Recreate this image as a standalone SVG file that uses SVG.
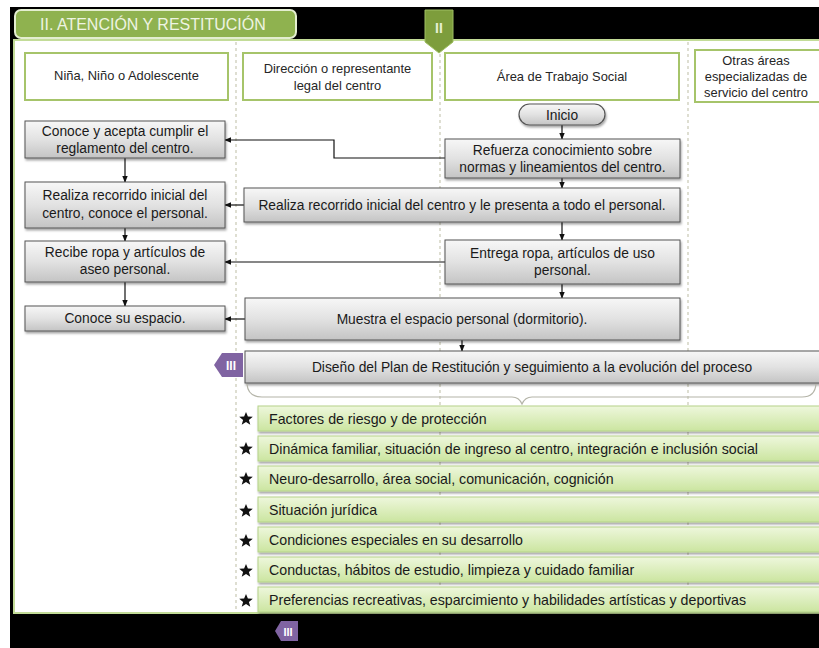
<svg xmlns="http://www.w3.org/2000/svg" width="819" height="648" viewBox="0 0 819 648">
  <defs>
    <linearGradient id="grayFill" x1="0" y1="0" x2="0" y2="1">
      <stop offset="0" stop-color="#f7f7f7"/>
      <stop offset="0.5" stop-color="#e2e2e2"/>
      <stop offset="1" stop-color="#c4c4c4"/>
    </linearGradient>
    <linearGradient id="greenBar" x1="0" y1="0" x2="0" y2="1">
      <stop offset="0" stop-color="#eef7dc"/>
      <stop offset="1" stop-color="#cbe5a0"/>
    </linearGradient>
    <filter id="shadow" x="-5%" y="-20%" width="110%" height="150%">
      <feDropShadow dx="1" dy="2" stdDeviation="1.2" flood-color="#000" flood-opacity="0.35"/>
    </filter>
    <marker id="arrow" viewBox="0 0 10 10" refX="9" refY="5" markerWidth="6" markerHeight="6" orient="auto">
      <path d="M0,1 L10,5 L0,9 z" fill="#111"/>
    </marker>
    <path id="star" d="M0,-7 L1.9,-2.4 L6.8,-2.2 L2.9,0.9 L4.3,5.8 L0,3 L-4.3,5.8 L-2.9,0.9 L-6.8,-2.2 L-1.9,-2.4 z"/>
  </defs>
  <style>
    text { font-family: "Liberation Sans", Arial, sans-serif; fill: #1a1a1a; }
    .hdr { fill: #ffffff; stroke: #a6c46a; stroke-width: 2; }
    .hdrText { font-size: 12.9px; text-anchor: middle; fill: #262626; }
    .box { fill: url(#grayFill); stroke: #555555; stroke-width: 1; filter: url(#shadow); }
    .boxText { font-size: 13.8px; text-anchor: middle; fill: #1a1a1a; }
    .bar { fill: url(#greenBar); stroke: #b5d28a; stroke-width: 1; filter: url(#shadow); }
    .barText { font-size: 14.2px; fill: #1a1a1a; }
    .lane { stroke: #c8c8b4; stroke-width: 1.2; stroke-dasharray: 3 3; fill: none; }
    .conn { stroke: #111; stroke-width: 1.2; fill: none; marker-end: url(#arrow); }
    .star { fill: #111; }
  </style>

  <!-- page background and dark frame -->
  <rect x="0" y="0" width="819" height="648" fill="#ffffff"/>
  <rect x="10" y="7" width="809" height="641" fill="#000000"/>
  <rect x="14" y="40" width="810" height="573" fill="#ffffff" stroke="#c3dc98" stroke-width="2"/>

  <!-- section title tab -->
  <g id="title">
    <rect x="15" y="10" width="281" height="28" rx="6" fill="#8fb24f" stroke="#e4eed0" stroke-width="2"/>
    <text x="40" y="30" font-size="16" style="fill:#eef4e2">II. ATENCIÓN Y RESTITUCIÓN</text>
  </g>

  <!-- lane separators -->
  <g id="lanes">
    <line class="lane" x1="236" y1="42" x2="236" y2="612"/>
    <line class="lane" x1="440" y1="42" x2="440" y2="612"/>
    <line class="lane" x1="688" y1="42" x2="688" y2="612"/>
  </g>

  <!-- marker II -->
  <g id="tag-ii">
    <path d="M425,10 H453 V42 L439,53 L425,42 Z" fill="#7d9d3c" stroke="#9fbf62" stroke-width="1"/>
    <text x="439" y="33" font-size="14" text-anchor="middle" font-weight="bold" style="fill:#e8f0d6">II</text>
  </g>

  <!-- lane headers -->
  <g id="hdr-nna">
    <rect class="hdr" x="25" y="53" width="203" height="47"/>
    <text class="hdrText" x="126.5" y="80">Niña, Niño o Adolescente</text>
  </g>
  <g id="hdr-direccion">
    <rect class="hdr" x="243" y="53" width="189" height="47"/>
    <text class="hdrText" x="337.5" y="73">Dirección o representante</text>
    <text class="hdrText" x="337.5" y="90">legal  del centro</text>
  </g>
  <g id="hdr-trabajo-social">
    <rect class="hdr" x="445" y="53" width="234" height="47"/>
    <text class="hdrText" x="562" y="81">Área de Trabajo Social</text>
  </g>
  <g id="hdr-otras">
    <rect class="hdr" x="695" y="50" width="126" height="52"/>
    <text class="hdrText" x="756" y="65">Otras áreas</text>
    <text class="hdrText" x="756" y="81">especializadas de</text>
    <text class="hdrText" x="756" y="97">servicio del centro</text>
  </g>

  <!-- connectors -->
  <g id="connectors">
    <line class="conn" x1="562" y1="125" x2="562" y2="139"/>
    <polyline class="conn" points="445,158 334,158 334,140 225,140"/>
    <line class="conn" x1="562" y1="178" x2="562" y2="188"/>
    <line class="conn" x1="244" y1="205" x2="225" y2="205"/>
    <line class="conn" x1="562" y1="222" x2="562" y2="240"/>
    <line class="conn" x1="445" y1="262" x2="225" y2="262"/>
    <line class="conn" x1="562" y1="284" x2="562" y2="298"/>
    <line class="conn" x1="245" y1="319" x2="225" y2="319"/>
    <line class="conn" x1="462" y1="340" x2="462" y2="351"/>
    <line class="conn" x1="125" y1="158" x2="125" y2="182"/>
    <line class="conn" x1="125" y1="228" x2="125" y2="241"/>
    <line class="conn" x1="125" y1="282" x2="125" y2="306"/>
  </g>

  <!-- Trabajo Social lane -->
  <g id="inicio">
    <rect x="519" y="104" width="86" height="21" rx="10.5" fill="url(#grayFill)" stroke="#555" stroke-width="1.2" filter="url(#shadow)"/>
    <text class="boxText" x="562" y="120" font-size="15">Inicio</text>
  </g>
  <g id="refuerza">
    <rect class="box" x="445" y="139" width="235" height="39"/>
    <text class="boxText" x="562.5" y="155">Refuerza conocimiento sobre</text>
    <text class="boxText" x="562.5" y="172">normas y lineamientos del centro.</text>
  </g>
  <g id="recorrido-centro">
    <rect class="box" x="244" y="188" width="436" height="34"/>
    <text class="boxText" x="462" y="210">Realiza recorrido inicial del centro y le presenta a todo el personal.</text>
  </g>
  <g id="entrega">
    <rect class="box" x="445" y="240" width="235" height="44"/>
    <text class="boxText" x="562.5" y="258">Entrega ropa, artículos de uso</text>
    <text class="boxText" x="562.5" y="275">personal.</text>
  </g>
  <g id="muestra">
    <rect class="box" x="245" y="298" width="435" height="42"/>
    <text class="boxText" x="462" y="324">Muestra el espacio personal (dormitorio).</text>
  </g>
  <g id="diseno">
    <rect class="box" x="245" y="351" width="580" height="32"/>
    <text class="boxText" x="532" y="372">Diseño del Plan de Restitución y seguimiento a la evolución del proceso</text>
  </g>
  <g id="tag-iii">
    <path d="M243,353 V377 H222 L214,365 L222,353 Z" fill="#8064a2"/>
    <text x="231" y="370" font-size="12" text-anchor="middle" font-weight="bold" style="fill:#ffffff">III</text>
  </g>

  <!-- NNA lane -->
  <g id="acepta">
    <rect class="box" x="25" y="121" width="200" height="37"/>
    <text class="boxText" x="125" y="136">Conoce y acepta cumplir el</text>
    <text class="boxText" x="125" y="153">reglamento del centro.</text>
  </g>
  <g id="recorrido-nna">
    <rect class="box" x="25" y="182" width="200" height="46"/>
    <text class="boxText" x="125" y="200">Realiza recorrido inicial del</text>
    <text class="boxText" x="125" y="218">centro, conoce el personal.</text>
  </g>
  <g id="recibe">
    <rect class="box" x="25" y="241" width="200" height="41"/>
    <text class="boxText" x="125" y="257">Recibe ropa y artículos de</text>
    <text class="boxText" x="125" y="274">aseo personal.</text>
  </g>
  <g id="espacio">
    <rect class="box" x="25" y="306" width="200" height="25"/>
    <text class="boxText" x="125" y="323">Conoce  su espacio.</text>
  </g>

  <!-- brace grouping the plan components -->
  <path id="brace" d="M247,384 Q248,397 262,397 H512 Q519,397 522,404 Q525,397 532,397 H802 Q815,397 816,384" fill="none" stroke="#b4b4a8" stroke-width="1.2"/>

  <!-- plan components -->
  <g id="item-1">
    <rect class="bar" x="258" y="406" width="566" height="25"/>
    <use href="#star" class="star" x="246" y="419"/>
    <text class="barText" x="269" y="424">Factores de riesgo y de protección</text>
  </g>
  <g id="item-2">
    <rect class="bar" x="258" y="436" width="566" height="25"/>
    <use href="#star" class="star" x="246" y="449"/>
    <text class="barText" x="269" y="454">Dinámica familiar, situación de ingreso al centro, integración e inclusión social</text>
  </g>
  <g id="item-3">
    <rect class="bar" x="258" y="466" width="566" height="25"/>
    <use href="#star" class="star" x="246" y="479"/>
    <text class="barText" x="269" y="484">Neuro-desarrollo, área social, comunicación, cognición</text>
  </g>
  <g id="item-4">
    <rect class="bar" x="258" y="497" width="566" height="25"/>
    <use href="#star" class="star" x="246" y="511"/>
    <text class="barText" x="269" y="515">Situación jurídica</text>
  </g>
  <g id="item-5">
    <rect class="bar" x="258" y="527" width="566" height="25"/>
    <use href="#star" class="star" x="246" y="541"/>
    <text class="barText" x="269" y="545">Condiciones especiales en su desarrollo</text>
  </g>
  <g id="item-6">
    <rect class="bar" x="258" y="557" width="566" height="25"/>
    <use href="#star" class="star" x="246" y="571"/>
    <text class="barText" x="269" y="575">Conductas, hábitos de estudio, limpieza y cuidado familiar</text>
  </g>
  <g id="item-7">
    <rect class="bar" x="258" y="587" width="566" height="25"/>
    <use href="#star" class="star" x="246" y="601"/>
    <text class="barText" x="269" y="605">Preferencias recreativas, esparcimiento y habilidades artísticas y deportivas</text>
  </g>

  <!-- footer marker III -->
  <g id="tag-iii-footer">
    <path d="M298,621 V641 H281 L275,631 L281,621 Z" fill="#8064a2"/>
    <text x="288" y="636" font-size="11" text-anchor="middle" font-weight="bold" style="fill:#ffffff">III</text>
  </g>
</svg>
